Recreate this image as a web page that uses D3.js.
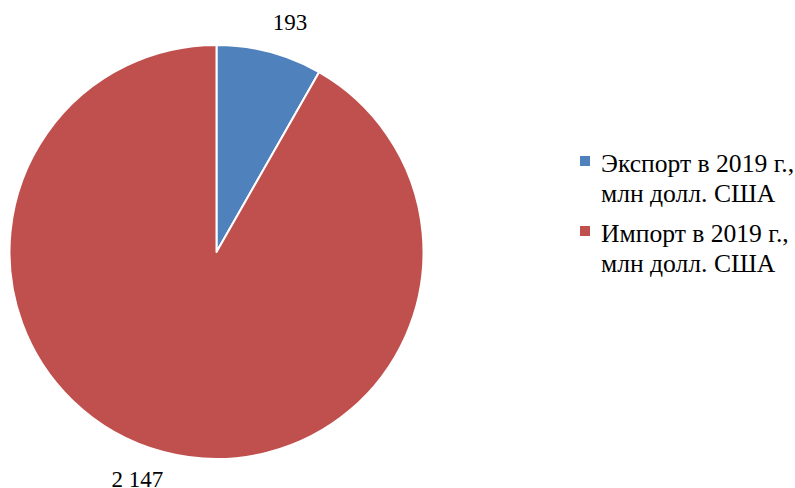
<!DOCTYPE html>
<html><head><meta charset="utf-8">
<script src="https://cdn.jsdelivr.net/npm/d3@7/dist/d3.min.js"></script>
<style>body{margin:0;background:#fff}svg{display:block}text{font-family:"Liberation Serif","Times New Roman",serif}</style>
</head><body>
<svg id="c" width="795" height="488"></svg>
<script>
const categories = ["Экспорт в 2019 г., млн долл. США", "Импорт в 2019 г., млн долл. США"];
const legendLines = [["Экспорт в 2019 г.,", "млн долл. США"], ["Импорт в 2019 г.,", "млн долл. США"]];
const values = [193, 2147];
const valueLabels = ["193", "2 147"];
const colors = ["#4F81BD", "#C0504D"];

const svg = d3.select("#c");
const cx = 216.5, cy = 252, r = 207;
const pie = d3.pie().sort(null).value(d => d)(values);
const arc = d3.arc().innerRadius(0).outerRadius(r);
const g = svg.append("g").attr("transform", `translate(${cx},${cy})`);
g.selectAll("path").data(pie).join("path")
  .attr("d", arc).attr("fill", (d, i) => colors[i])
  .attr("stroke", "#fff").attr("stroke-width", 2).attr("stroke-linejoin", "round");

const labelArc = d3.arc().innerRadius(r + 28).outerRadius(r + 28);
g.selectAll("text.v").data(pie).join("text").attr("class", "v")
  .each(function (d, i) {
    const [x, y] = labelArc.centroid(d);
    const mid = (d.startAngle + d.endAngle) / 2;
    const right = Math.sin(mid) >= 0;
    const top = Math.cos(mid) >= 0;
    d3.select(this).attr("x", x + (right ? -4 : 7)).attr("y", y + (top ? 5 : 8))
      .attr("text-anchor", right ? "start" : "end");
  })
  .attr("font-size", 23).attr("fill", "#000").text((d, i) => valueLabels[i]);

const lg = svg.append("g").attr("transform", "translate(580,0)");
legendLines.forEach((lines, i) => {
  const y0 = 172 + i * 70;
  lg.append("rect").attr("x", 0).attr("y", y0 - 16).attr("width", 10).attr("height", 10).attr("fill", colors[i]);
  lines.forEach((t, j) => {
    lg.append("text").attr("x", 21).attr("y", y0 + j * 30).attr("font-size", 25.6).attr("fill", "#000").text(t);
  });
});
</script>
</body></html>
